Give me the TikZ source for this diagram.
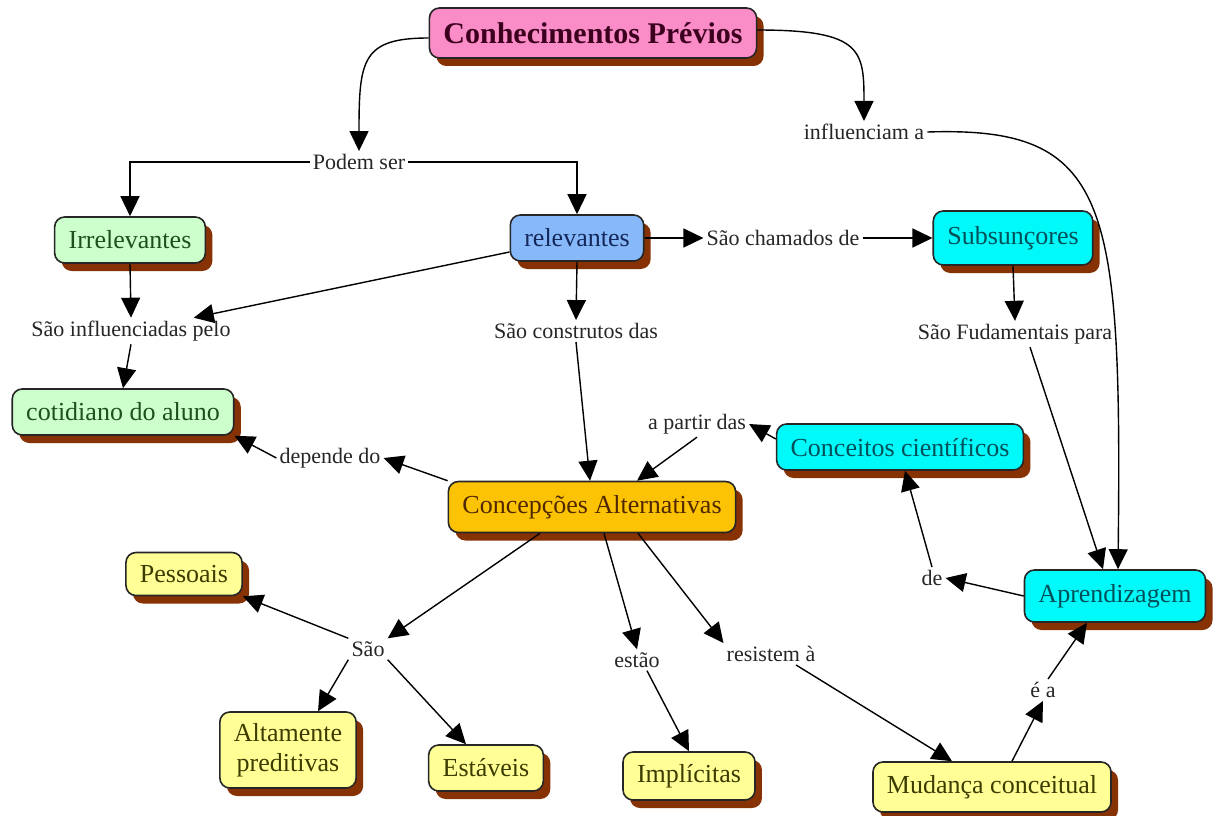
\documentclass[tikz,border=0pt]{standalone}
\usepackage{fontspec}
\setmainfont{Liberation Serif}
\usepackage{xcolor}
\usetikzlibrary{positioning, shapes, arrows.meta, shadows, calc}

\definecolor{shadowbrown}{RGB}{135,50,5}
\definecolor{pinkfill}{RGB}{250,140,200}
\definecolor{greenfill}{RGB}{204,255,204}
\definecolor{bluefill}{RGB}{135,185,250}
\definecolor{cyanfill}{RGB}{0,250,250}
\definecolor{orangefill}{RGB}{252,195,5}
\definecolor{yellowfill}{RGB}{255,255,150}

\begin{document}
\begin{tikzpicture}[
    x=1pt, y=-1pt,
    concept/.style={rectangle, rounded corners=10pt, draw=black!85, line width=1.6pt, inner xsep=14pt, inner ysep=4pt, minimum height=46pt, font=\fontsize{26}{30}\selectfont, drop shadow={shadow xshift=7pt, shadow yshift=-8pt, fill=shadowbrown, opacity=1, draw=none}},
    pinkbox/.style={concept, fill=pinkfill, text={rgb,255:red,60;green,0;blue,30}, font=\fontsize{30}{34}\selectfont\bfseries},
    greenbox/.style={concept, fill=greenfill, text={rgb,255:red,30;green,80;blue,30}},
    bluebox/.style={concept, fill=bluefill, text={rgb,255:red,20;green,40;blue,90}},
    cyanbox/.style={concept, fill=cyanfill, text={rgb,255:red,0;green,80;blue,90}},
    orangebox/.style={concept, fill=orangefill, text={rgb,255:red,80;green,40;blue,0}},
    yellowbox/.style={concept, fill=yellowfill, text={rgb,255:red,60;green,60;blue,0}},
    phrase/.style={inner sep=3pt, font=\fontsize{22}{25}\selectfont, text=black!85},
    arrow/.style={-{Triangle[length=20pt, width=19pt]}, line width=1.4pt}
]
\useasboundingbox[fill=white] (0,0) rectangle (1215,816);

% Concepts
\node[pinkbox, minimum height=50pt] (prev) at (593,33) {Conhecimentos Prévios};
\node[greenbox] (irr) at (130,240) {Irrelevantes};
\node[bluebox] (rel) at (577,238) {relevantes};
\node[cyanbox, minimum height=54pt] (sub) at (1013,238) {Subsunçores};
\node[greenbox] (cot) at (123,412) {cotidiano do aluno};
\node[cyanbox] (cc) at (900,447) {Conceitos científicos};
\node[orangebox, minimum height=51pt] (conc) at (592,507) {Concepções Alternativas};
\node[cyanbox, minimum height=52pt] (apr) at (1115,596) {Aprendizagem};
\node[yellowbox, minimum height=43pt] (pes) at (184,574) {Pessoais};
\node[yellowbox, minimum height=76pt, align=center] (alt) at (288,750) {Altamente\\preditivas};
\node[yellowbox] (est) at (486,768) {Estáveis};
\node[yellowbox, minimum height=48pt] (imp) at (689,776) {Implícitas};
\node[yellowbox, minimum height=50pt] (mud) at (992,787) {Mudança conceitual};

% Linking phrases
\node[phrase] (podem) at (359,162) {Podem ser};
\node[phrase] (infl) at (864,132) {influenciam a};
\node[phrase] (sch) at (783,238) {São chamados de};
\node[phrase] (sinf) at (131,331) {São influenciadas pelo};
\node[phrase] (scon) at (576,331) {São construtos das};
\node[phrase] (sfun) at (1015,334) {São Fudamentais para};
\node[phrase] (apd) at (697,424) {a partir das};
\node[phrase] (dep) at (330,458) {depende do};
\node[phrase] (de) at (932,578) {de};
\node[phrase] (sao) at (368,649) {São};
\node[phrase] (esta) at (637,660) {estão};
\node[phrase] (res) at (771,654) {resistem à};
\node[phrase] (ea) at (1043,690) {é a};

% Arrows
\draw[arrow] ([yshift=-5pt]prev.west) .. controls (362,38) and (359,60) .. (podem.north);
\draw[arrow] (podem.west) -| (irr.north);
\draw[arrow] (podem.east) -| (rel.north);
\draw[arrow] ([yshift=3pt]prev.east) .. controls (862,30) and (864,50) .. (infl.north);
\draw[arrow] (infl.east) .. controls (1110,126) and (1122,200) .. ([xshift=3pt]apr.north);
\draw[arrow] (rel.east) -- (sch.west);
\draw[arrow] (sch.east) -- (sub.west);
\draw[arrow] (irr.south) -- (sinf.north);
\draw[arrow] ([yshift=-14pt]rel.west) -- ([xshift=-40pt]sinf.north east);
\draw[arrow] (sinf.south) -- (cot.north);
\draw[arrow] (rel.south) -- (scon.north);
\draw[arrow] (scon.south) -- ([xshift=-2pt]conc.north);
\draw[arrow] (conc.north west) -- (dep.east);
\draw[arrow] (dep.west) -- (cot.south east);
\draw[arrow] ([yshift=8pt]cc.west) -- (apd.east);
\draw[arrow] (apd.south) -- ([xshift=45pt]conc.north);
\draw[arrow] (sub.south) -- (sfun.north);
\draw[arrow] ([xshift=15pt]sfun.south) -- ([xshift=-12pt]apr.north);
\draw[arrow] (apr.west) -- (de.east);
\draw[arrow] (de.north) -- ([xshift=5pt]cc.south);
\draw[arrow] ([xshift=-52pt]conc.south) -- (sao.north east);
\draw[arrow] (sao.north west) -- (pes.south east);
\draw[arrow] (sao.south west) -- ([xshift=30pt]alt.north);
\draw[arrow] (sao.south east) -- ([xshift=-20pt]est.north);
\draw[arrow] ([xshift=12pt]conc.south) -- (esta.north);
\draw[arrow] ([xshift=10pt]esta.south) -- (imp.north);
\draw[arrow] ([xshift=46pt]conc.south) -- (res.north west);
\draw[arrow] ([xshift=25pt]res.south) -- ([xshift=-40pt]mud.north);
\draw[arrow] ([xshift=20pt]mud.north) -- (ea.south);
\draw[arrow] ([xshift=5pt]ea.north) -- ([xshift=-28pt]apr.south);

\end{tikzpicture}
\end{document}
